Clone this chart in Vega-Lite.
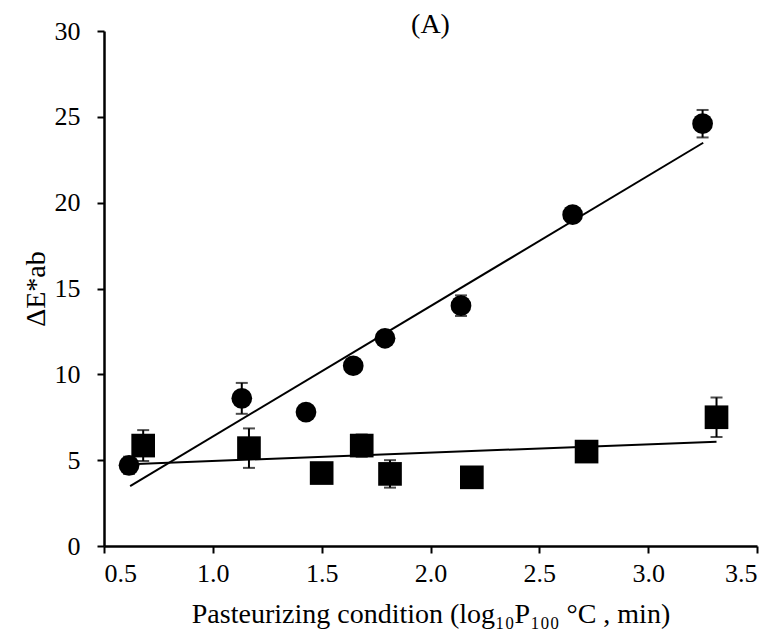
{
  "$schema": "https://vega.github.io/schema/vega-lite/v6.json",
  "width": 653,
  "height": 515,
  "autosize": {"type": "none"},
  "padding": {"left": 104, "top": 31, "right": 22, "bottom": 91},
  "background": "white",
  "config": {
    "font": "Liberation Serif",
    "view": {"stroke": null},
    "axis": {
      "grid": false,
      "domainColor": "black",
      "domainWidth": 2.5,
      "tickColor": "black",
      "tickWidth": 2,
      "tickSize": 7,
      "labelColor": "black",
      "titleColor": "black",
      "labelFont": "Liberation Serif",
      "titleFont": "Liberation Serif",
      "labelFontSize": 26,
      "titleFontSize": 28,
      "titleFontWeight": "normal"
    }
  },
  "title": {
    "text": "(A)",
    "font": "Liberation Serif",
    "fontSize": 28,
    "fontWeight": "normal",
    "color": "black",
    "anchor": "middle",
    "frame": "group",
    "offset": -21
  },
  "datasets": {
    "pts": [
      {"s": "circle", "x": 0.615, "y": 4.7, "err": 0.5},
      {"s": "circle", "x": 1.133, "y": 8.6, "err": 0.9},
      {"s": "circle", "x": 1.428, "y": 7.8, "err": 0.3},
      {"s": "circle", "x": 1.645, "y": 10.5, "err": 0.3},
      {"s": "circle", "x": 1.791, "y": 12.1, "err": 0.3},
      {"s": "circle", "x": 2.14, "y": 14.0, "err": 0.6},
      {"s": "circle", "x": 2.653, "y": 19.3, "err": 0.3},
      {"s": "circle", "x": 3.25, "y": 24.6, "err": 0.8},
      {"s": "square", "x": 0.68, "y": 5.85, "err": 0.9},
      {"s": "square", "x": 1.166, "y": 5.7, "err": 1.15},
      {"s": "square", "x": 1.5, "y": 4.25, "err": 0.3},
      {"s": "square", "x": 1.684, "y": 5.85, "err": 0.65},
      {"s": "square", "x": 1.814, "y": 4.2, "err": 0.8},
      {"s": "square", "x": 2.19, "y": 4.0, "err": 0.6},
      {"s": "square", "x": 2.717, "y": 5.5, "err": 0.3},
      {"s": "square", "x": 3.314, "y": 7.5, "err": 1.15}
    ],
    "fits": [
      {"s": "circle", "x": 0.62, "y": 3.49},
      {"s": "circle", "x": 3.253, "y": 23.49},
      {"s": "square", "x": 0.65, "y": 4.78},
      {"s": "square", "x": 3.314, "y": 6.08}
    ]
  },
  "encoding": {
    "x": {
      "field": "x",
      "type": "quantitative",
      "scale": {"domain": [0.5, 3.5], "nice": false, "zero": false},
      "axis": {
        "values": [0.5, 1.0, 1.5, 2.0, 2.5, 3.0, 3.5],
        "format": ".1f",
        "labelPadding": 7,
        "titlePadding": 14
      },
      "title": "Pasteurizing condition (log₁₀P₁₀₀ °C , min)"
    },
    "y": {
      "field": "y",
      "type": "quantitative",
      "scale": {"domain": [0, 30], "nice": false},
      "axis": {
        "values": [0, 5, 10, 15, 20, 25, 30],
        "labelPadding": 17,
        "titlePadding": 4
      },
      "title": "ΔE*ab"
    }
  },
  "layer": [
    {
      "data": {"name": "pts"},
      "mark": {"type": "errorbar", "color": "black", "thickness": 2, "ticks": {"size": 12, "thickness": 2, "color": "black"}},
      "encoding": {
        "yError": {"field": "err"}
      }
    },
    {
      "data": {"name": "fits"},
      "mark": {"type": "line", "color": "black", "strokeWidth": 2},
      "encoding": {
        "detail": {"field": "s"}
      }
    },
    {
      "data": {"name": "pts"},
      "mark": {"type": "point", "filled": true, "opacity": 1, "color": "black"},
      "encoding": {
        "shape": {
          "field": "s",
          "type": "nominal",
          "scale": {"domain": ["circle", "square"], "range": ["circle", "square"]},
          "legend": null
        },
        "size": {
          "field": "s",
          "type": "nominal",
          "scale": {"domain": ["circle", "square"], "range": [430, 560]},
          "legend": null
        }
      }
    }
  ]
}
